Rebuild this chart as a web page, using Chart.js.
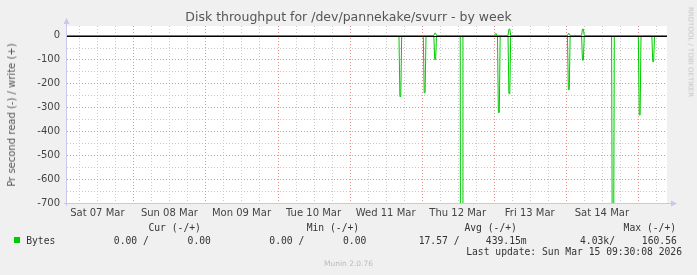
<!DOCTYPE html>
<html>
<head>
<meta charset="utf-8">
<script src="https://cdn.jsdelivr.net/npm/chart.js@4.4.1/dist/chart.umd.min.js"></script>
<style>
  html, body { margin: 0; padding: 0; background: #f0f0f0; }
  #wrap { position: relative; width: 697px; height: 275px; overflow: hidden; }
  #chart { position: absolute; left: 0; top: 0; }
  .t { position: absolute; white-space: pre; font-family: "DejaVu Sans", sans-serif; color: #555; line-height: 1; }
  .mono { font-family: "DejaVu Sans Mono", monospace; font-size: 9.7px; color: #333; }
</style>
</head>
<body>
<div id="wrap">
  <canvas id="chart" width="697" height="275"></canvas>
  <div class="t" id="title" style="left:0;width:697px;text-align:center;top:11px;font-size:12.5px;">Disk throughput for /dev/pannekake/svurr - by week</div>
  <div class="t" style="left:12px;top:115px;font-size:10px;transform:translate(-50%,-50%) rotate(-90deg);">Pr second read (-) / write (+)</div>
  <div class="t" style="left:690px;top:52px;font-size:7px;color:#c4c4c4;transform:translate(-50%,-50%) rotate(90deg);">RRDTOOL / TOBI OETIKER</div>
  <div id="legend"></div>
  <div class="t" style="left:0;width:697px;text-align:center;top:260px;font-size:7.5px;color:#bbb;">Munin 2.0.76</div>
</div>
<script>
// time axis: hours since Sat 07 Mar 00:00, graph ends at last update
const xStart = 1.9;
const xEnd = 201.7;
const dayLabels = ['Sat 07 Mar', 'Sun 08 Mar', 'Mon 09 Mar', 'Tue 10 Mar', 'Wed 11 Mar', 'Thu 12 Mar', 'Fri 13 Mar', 'Sat 14 Mar'];

// read (-) samples, bytes per second
const readTimes = [
  1.9,
  112.45, 112.75, 113.05, 113.35,
  120.55, 120.85, 121.15, 121.45,
  124.05, 124.35, 124.65, 124.95,
  132.85, 133.15, 133.45, 133.75,
  145.25, 145.55, 145.85, 146.15,
  148.75, 149.05, 149.35, 149.65,
  168.55, 168.85, 169.15, 169.45,
  173.25, 173.55, 173.85, 174.15,
  183.25, 183.55, 183.85, 184.15,
  192.15, 192.45, 192.75, 193.05,
  196.65, 196.95, 197.25, 197.55,
  201.7
];
const readValues = [
  0,
  0, -255, -255, 0,
  0, -239, -239, 0,
  0, -100, -100, 0,
  0, -4030, -4030, 0,
  0, -322, -322, 0,
  0, -243, -243, 0,
  0, -226, -226, 0,
  0, -103, -103, 0,
  0, -1200, -1200, 0,
  0, -332, -332, 0,
  0, -109, -109, 0,
  0
];

// write (+) samples
const writeTimes = [
  1.9,
  124.05, 124.35, 124.65, 124.95,
  144.25, 144.55, 144.85, 145.15,
  148.75, 149.05, 149.35, 149.65,
  168.55, 168.85, 169.15, 169.45,
  173.25, 173.55, 173.85, 174.15,
  201.7
];
const writeValues = [
  0,
  0, 10, 10, 0,
  0, 8, 8, 0,
  0, 27, 27, 0,
  0, 8, 8, 0,
  0, 27, 27, 0,
  0
];

const yMin = -700;
const yMax = 40;

// legend stats
const statHeads = ['Cur (-/+)', 'Min (-/+)', 'Avg (-/+)', 'Max (-/+)'];
const statRead = ['0.00 /', '0.00 /', '17.57 /', '4.03k/'];
const statWrite = ['0.00', '0.00', '439.15m', '160.56'];
const lastUpdate = 'Last update: Sun Mar 15 09:30:08 2026';

const GREEN = '#00cc00';
const GRID = '#c8c8c8';
const MGRID = '#e89090';
const AXIS = '#c8c8ee';

function toPoints(xs, ys) {
  return xs.map((x, i) => ({ x, y: ys[i] }));
}

// legend, laid out like rrdtool's fixed columns
(function buildLegend() {
  const el = document.getElementById('legend');
  const headX = [148.4, 306.7, 464.4, 623.6];
  const readX = [113.8, 269.3, 418.7, 580];
  const writeX = [187.6, 343, 485.8, 641.8];
  let html = '';
  statHeads.forEach((h, i) => {
    html += `<div class="t mono" style="left:${headX[i]}px;top:223px">${h}</div>`;
    html += `<div class="t mono" style="left:${readX[i]}px;top:235.5px">${statRead[i]}</div>`;
    html += `<div class="t mono" style="left:${writeX[i]}px;top:235.5px">${statWrite[i]}</div>`;
  });
  html += `<div style="position:absolute;left:14px;top:237px;width:6px;height:6px;background:${GREEN}"></div>`;
  html += `<div class="t mono" style="left:26.2px;top:235.5px">Bytes</div>`;
  html += `<div class="t mono" style="right:15px;top:247px">${lastUpdate}</div>`;
  el.innerHTML = html;
})();

// white plot area, dotted rrdtool-style grid, zero rule and axis arrows
const decor = {
  id: 'decor',
  beforeDatasetsDraw(chart) {
    const { ctx, chartArea: a, scales } = chart;
    ctx.save();
    ctx.fillStyle = '#ffffff';
    ctx.fillRect(a.left, a.top, a.right - a.left, a.bottom - a.top);
    ctx.lineWidth = 1;
    ctx.setLineDash([1, 2]);
    // minor first, major on top
    for (const major of [false, true]) {
      ctx.strokeStyle = major ? MGRID : GRID;
      ctx.beginPath();
      scales.x.ticks.forEach((t) => {
        if ((t.value % 24 === 0) !== major) return;
        const px = Math.round(scales.x.getPixelForValue(t.value)) + 0.5;
        ctx.moveTo(px, a.top);
        ctx.lineTo(px, a.bottom);
      });
      scales.y.ticks.forEach((t) => {
        if (t.value === 0 || t.value === yMin) return;
        if ((t.value % 100 === 0) !== major) return;
        const py = Math.round(scales.y.getPixelForValue(t.value)) + 0.5;
        ctx.moveTo(a.left, py);
        ctx.lineTo(a.right, py);
      });
      ctx.stroke();
    }
    ctx.restore();
  },
  afterDatasetsDraw(chart) {
    const { ctx, chartArea: a, scales } = chart;
    const y0 = Math.round(scales.y.getPixelForValue(0)) + 0.5;
    ctx.save();
    ctx.strokeStyle = '#000000';
    ctx.lineWidth = 1;
    ctx.beginPath();
    ctx.moveTo(a.left, y0);
    ctx.lineTo(a.right, y0);
    ctx.stroke();
    const xl = Math.round(a.left) - 0.5;
    const yb = Math.round(a.bottom) + 0.5;
    ctx.strokeStyle = AXIS;
    ctx.fillStyle = AXIS;
    ctx.beginPath();
    ctx.moveTo(xl, a.bottom + 3);
    ctx.lineTo(xl, a.top - 2);
    ctx.moveTo(a.left - 3, yb);
    ctx.lineTo(a.right + 4, yb);
    ctx.stroke();
    ctx.beginPath();
    ctx.moveTo(xl - 3, a.top - 2);
    ctx.lineTo(xl + 3, a.top - 2);
    ctx.lineTo(xl, a.top - 8);
    ctx.closePath();
    ctx.fill();
    ctx.beginPath();
    ctx.moveTo(a.right + 4, yb - 3);
    ctx.lineTo(a.right + 4, yb + 3);
    ctx.lineTo(a.right + 10, yb);
    ctx.closePath();
    ctx.fill();
    ctx.restore();
  }
};

new Chart(document.getElementById('chart'), {
  type: 'line',
  data: {
    datasets: [
      { label: 'read', data: toPoints(readTimes, readValues), borderColor: GREEN, borderWidth: 1, pointRadius: 0, tension: 0, fill: false },
      { label: 'write', data: toPoints(writeTimes, writeValues), borderColor: GREEN, borderWidth: 1, pointRadius: 0, tension: 0, fill: false },
    ],
  },
  options: {
    responsive: false,
    animation: false,
    devicePixelRatio: 1,
    layout: { padding: { left: 0, top: 26, right: 30, bottom: 0 } },
    plugins: { legend: { display: false }, tooltip: { enabled: false }, title: { display: false } },
    scales: {
      x: {
        type: 'linear',
        min: xStart,
        max: xEnd,
        afterFit: (s) => { s.height = 72; },
        afterBuildTicks: (s) => {
          const ticks = [];
          for (let h = 6; h < xEnd; h += 6) ticks.push({ value: h });
          s.ticks = ticks;
        },
        grid: { display: false, drawTicks: false },
        border: { display: false },
        ticks: {
          autoSkip: false,
          maxRotation: 0,
          padding: 4,
          color: '#444',
          font: { family: 'DejaVu Sans', size: 10 },
          callback: (v) => (v % 24 === 12 ? dayLabels[(v - 12) / 24] : ''),
        },
      },
      y: {
        min: yMin,
        max: yMax,
        afterFit: (s) => { s.width = 67; },
        afterBuildTicks: (s) => {
          const ticks = [];
          for (let v = yMin; v <= 0; v += 50) ticks.push({ value: v });
          s.ticks = ticks;
        },
        grid: { display: false, drawTicks: false },
        border: { display: false },
        ticks: {
          autoSkip: false,
          padding: 7,
          color: '#444',
          font: { family: 'DejaVu Sans', size: 10 },
          callback: (v) => (v % 100 === 0 ? String(v) : ''),
        },
      },
    },
  },
  plugins: [decor],
});
</script>
</body>
</html>
